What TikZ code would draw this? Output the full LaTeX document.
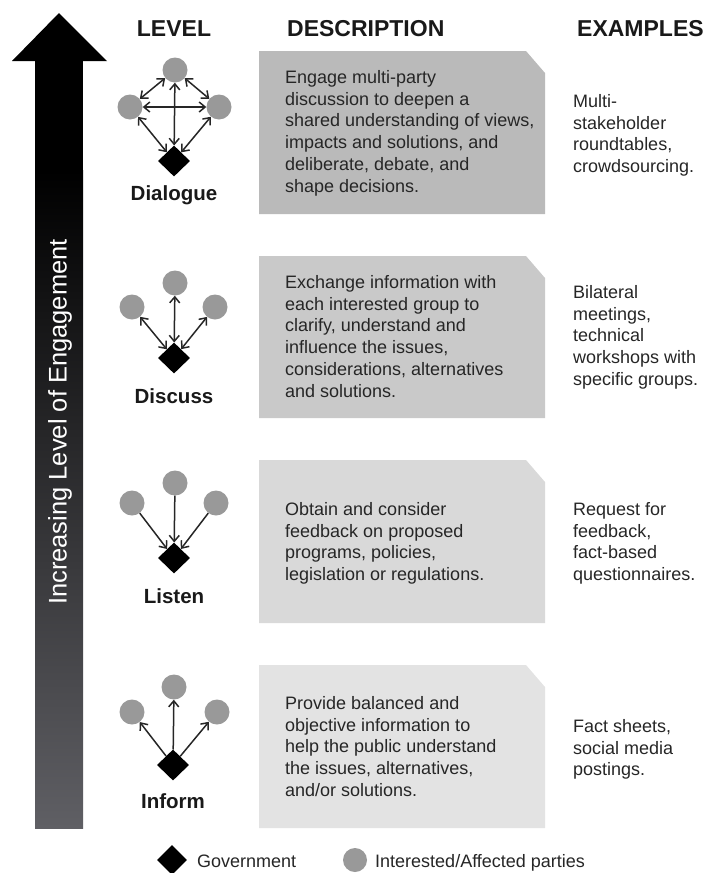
\documentclass[tikz,border=0pt]{standalone}
\usepackage{fontspec}
\setmainfont{Liberation Sans}
\usetikzlibrary{shapes.geometric,arrows.meta}
\definecolor{boxA}{gray}{0.73}
\definecolor{boxB}{gray}{0.79}
\definecolor{boxC}{gray}{0.85}
\definecolor{boxD}{gray}{0.89}
\definecolor{partygray}{gray}{0.6}
\definecolor{txt}{gray}{0.15}
\definecolor{shaftlow}{RGB}{95,95,100}
\begin{document}
\begin{tikzpicture}[x=1pt,y=-1pt,
  party/.style={circle, fill=partygray, minimum size=25pt, inner sep=0pt},
  gov/.style={diamond, fill=black, minimum width=32pt, minimum height=31pt, inner sep=0pt},
  link/.style={line width=1.5pt, draw=black!85},
  bothway/.style={link, {Straight Barb[length=6pt,width=10pt]}-{Straight Barb[length=6pt,width=10pt]}},
  oneway/.style={link, -{Straight Barb[length=6pt,width=10pt]}},
  desc/.style={anchor=north west, inner sep=0pt, align=left, text=txt, font=\fontsize{18}{21.8}\selectfont},
  head/.style={inner sep=0pt, text=black!90, font=\bfseries\fontsize{23}{27}\selectfont},
  lvl/.style={anchor=base, inner sep=0pt, text=black!90, font=\bfseries\fontsize{20.5}{24}\selectfont},
  legend/.style={anchor=base west, inner sep=0pt, text=txt, font=\fontsize{18}{21}\selectfont}
]
\useasboundingbox (0,0) rectangle (707,873);

% big arrow
\shade[top color=black, bottom color=shaftlow] (35,170) rectangle (83,828);
\fill[black] (35,60) rectangle (83,171);
\fill[black] (12,61) -- (59,13) -- (107,61) -- cycle;
\node[rotate=90, text=white, inner sep=0pt, font=\fontsize{25.5}{30}\selectfont] (axis) at (60,422) {Increasing Level of Engagement};

% headers
\node[head] (hlevel) at (174,29) {LEVEL};
\node[head, anchor=west] (hdesc) at (287,29) {DESCRIPTION};
\node[head, anchor=west] (hex) at (577,29) {EXAMPLES};

% boxes
\fill[boxA] (259,51) -- (526,51) -- (545,73) -- (545,214) -- (259,214) -- cycle;
\fill[boxB] (259,256) -- (526,256) -- (545,278) -- (545,418) -- (259,418) -- cycle;
\fill[boxC] (259,460) -- (526,460) -- (545,482) -- (545,623) -- (259,623) -- cycle;
\fill[boxD] (259,665) -- (526,665) -- (545,687) -- (545,828) -- (259,828) -- cycle;

% descriptions
\node[desc] (d1) at (285,70) {Engage multi-party\\discussion to deepen a\\shared understanding of views,\\impacts and solutions, and\\deliberate, debate, and\\shape decisions.};
\node[desc] (d2) at (285,275) {Exchange information with\\each interested group to\\clarify, understand and\\influence the issues,\\considerations, alternatives\\and solutions.};
\node[desc] (d3) at (285,502) {Obtain and consider\\feedback on proposed\\programs, policies,\\legislation or regulations.};
\node[desc] (d4) at (285,696) {Provide balanced and\\objective information to\\help the public understand\\the issues, alternatives,\\and/or solutions.};

% examples
\node[desc] (e1) at (573,94) {Multi-\\stakeholder\\roundtables,\\crowdsourcing.};
\node[desc] (e2) at (573,285) {Bilateral\\meetings,\\technical\\workshops with\\specific groups.};
\node[desc] (e3) at (573,502) {Request for\\feedback,\\fact-based\\questionnaires.};
\node[desc] (e4) at (573,719) {Fact sheets,\\social media\\postings.};

% Dialogue
\node[party] (aT) at (175,70) {};
\node[party] (aL) at (130,107) {};
\node[party] (aR) at (219,107) {};
\node[gov] (aD) at (174,161) {};
\draw[bothway] (aT) -- (aL);
\draw[bothway] (aT) -- (aR);
\draw[bothway] (aL) -- (aR);
\draw[bothway] (aT) -- (aD);
\draw[bothway] (aL) -- (aD);
\draw[bothway] (aR) -- (aD);
\node[lvl] (la) at (174,200) {Dialogue};

% Discuss
\node[party] (bT) at (175,283) {};
\node[party] (bL) at (132,307) {};
\node[party] (bR) at (215,307) {};
\node[gov] (bD) at (174,358) {};
\draw[bothway] (bT) -- (bD);
\draw[bothway] (bL) -- (bD);
\draw[bothway] (bR) -- (bD);
\node[lvl] (lb) at (174,403) {Discuss};

% Listen
\node[party] (cT) at (175,483) {};
\node[party] (cL) at (132,503) {};
\node[party] (cR) at (216,503) {};
\node[gov] (cD) at (174,558) {};
\draw[oneway] (cT) -- (cD);
\draw[oneway] (cL) -- (cD);
\draw[oneway] (cR) -- (cD);
\node[lvl] (lc) at (174,603) {Listen};

% Inform
\node[party] (dT) at (174,687) {};
\node[party] (dL) at (132,712) {};
\node[party] (dR) at (217,712) {};
\node[gov] (dD) at (173,765) {};
\draw[oneway] (dD) -- (dT);
\draw[oneway] (dD) -- (dL);
\draw[oneway] (dD) -- (dR);
\node[lvl] (ld) at (173,808) {Inform};

% legend
\node[gov, minimum width=30pt, minimum height=30pt] (lgov) at (172,860) {};
\node[legend] (lgovt) at (197,867) {Government};
\node[party, minimum size=24pt] (lpar) at (355,860) {};
\node[legend] (lpart) at (375,867) {Interested/Affected parties};
\end{tikzpicture}
\end{document}
